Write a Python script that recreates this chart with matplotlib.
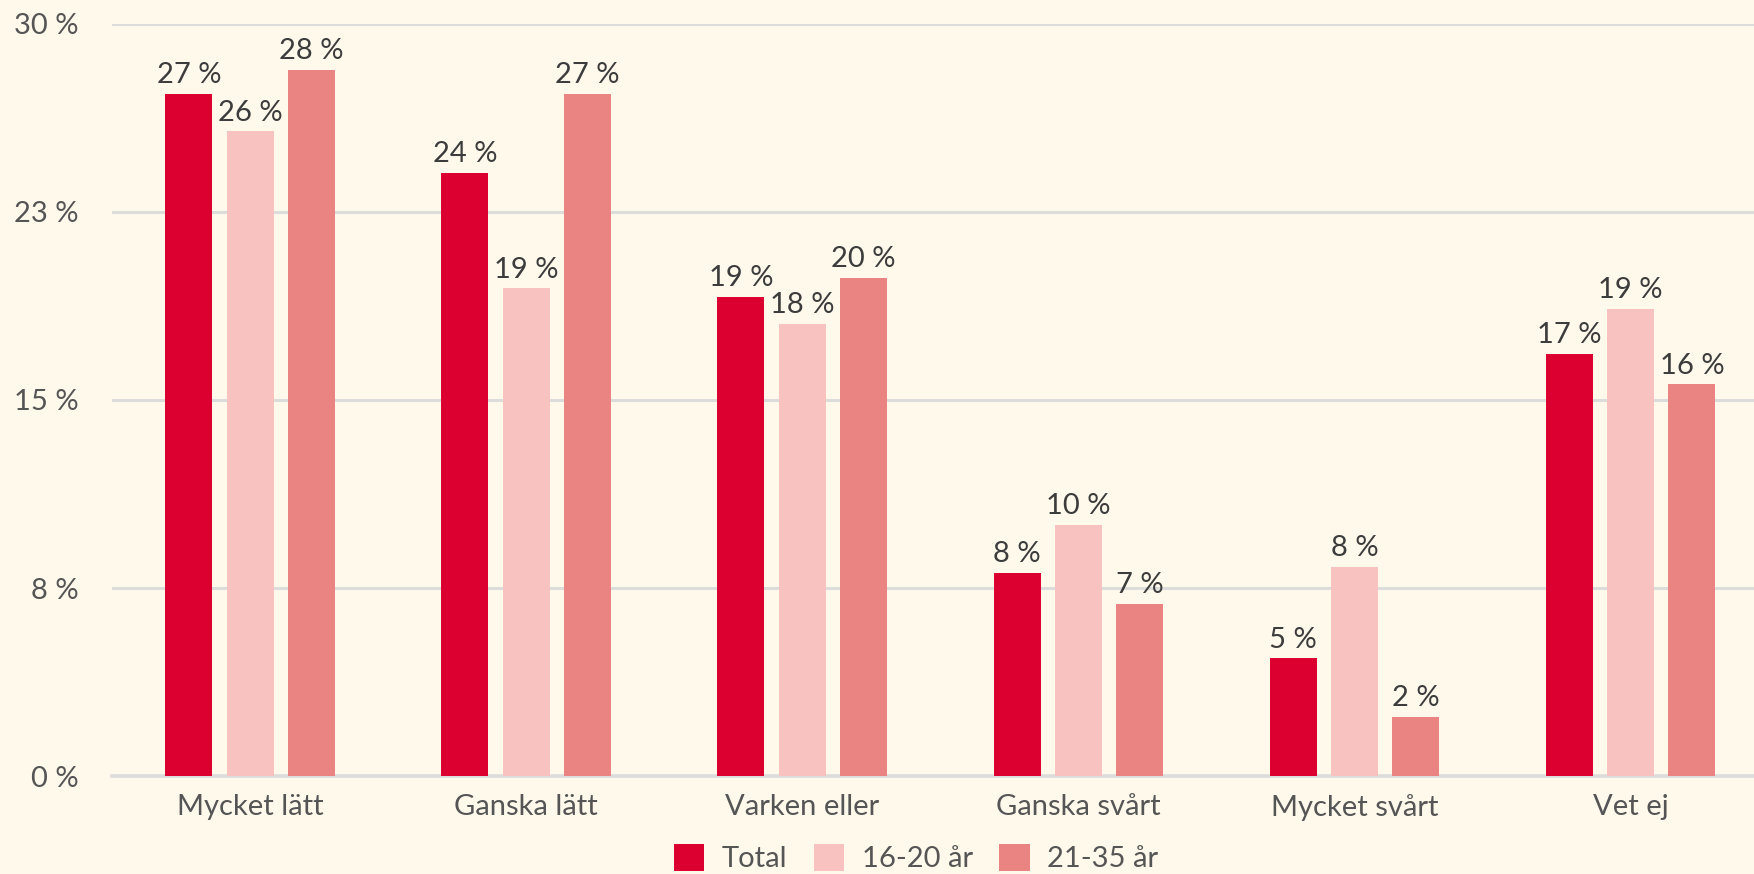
import math
import matplotlib
matplotlib.use("Agg")
import matplotlib.pyplot as plt
import numpy as np
from matplotlib.patches import Patch
from matplotlib.ticker import FixedLocator, FuncFormatter

plt.rcParams["font.family"] = ["Lato", "DejaVu Sans"]

categories = ["Mycket lätt", "Ganska lätt", "Varken eller", "Ganska svårt", "Mycket svårt", "Vet ej"]
series_names = ["Total", "16-20 år", "21-35 år"]
total = [27.21, 24.05, 19.12, 8.11, 4.70, 16.83]
age_16_20 = [25.71, 19.45, 18.04, 10.02, 8.35, 18.63]
age_21_35 = [28.16, 27.21, 19.87, 6.87, 2.38, 15.62]
y_ticks = [0, 7.5, 15, 22.5, 30]

colors = ["#DC0030", "#F7C2C0", "#E98482"]
bg = "#FFF9EC"
text_dark = "#3C3C3C"
text_mid = "#555555"
grid_col = "#DCDCDA"
fs = 21


def pct(v):
    return f"{int(math.floor(v + 0.5))} %"


fig = plt.figure(figsize=(17.54, 8.74), dpi=100, facecolor=bg)
ax = fig.add_axes([112 / 1754, (874 - 776.3) / 874, (1754 - 112) / 1754, (776.3 - 23.5) / 874])
ax.set_facecolor(bg)

x = np.arange(len(categories))
width = 0.17
step = 0.222
series = [total, age_16_20, age_21_35]
for i, (vals, col) in enumerate(zip(series, colors)):
    pos = x + (i - 1) * step
    bars = ax.bar(pos, vals, width=width, color=col, zorder=3, linewidth=0)
    for b, v in zip(bars, vals):
        ax.annotate(pct(v), (b.get_x() + b.get_width() / 2, v),
                    xytext=(0, 4), textcoords="offset points",
                    ha="center", va="bottom", fontsize=fs, color=text_dark,
                    annotation_clip=False, zorder=4)

ax.set_xlim(-0.5, 5.447)
ax.set_ylim(0, 30)
ax.yaxis.set_major_locator(FixedLocator(y_ticks))
ax.yaxis.set_major_formatter(FuncFormatter(lambda v, p: pct(v)))
ax.grid(axis="y", color=grid_col, linewidth=2.2, zorder=0)
ax.set_axisbelow(True)
for s in ["top", "right", "left"]:
    ax.spines[s].set_visible(False)
ax.spines["bottom"].set_color(grid_col)
ax.spines["bottom"].set_linewidth(2.6)
ax.spines["bottom"].set_zorder(2)

ax.set_xticks(x)
ax.set_xticklabels(categories)
ax.tick_params(axis="x", length=0, pad=13, labelsize=fs, labelcolor=text_mid)
ax.tick_params(axis="y", length=0, pad=24, labelsize=fs, labelcolor=text_mid)

handles = [Patch(facecolor=c, edgecolor="none") for c in colors]
fig.legend(handles, series_names, loc="center", bbox_to_anchor=(916 / 1754, (874 - 858) / 874),
           ncol=3, frameon=False, fontsize=fs, labelcolor=text_mid,
           handlelength=1.05, handleheight=1.05, handletextpad=0.6, columnspacing=0.9,
           borderpad=0.0)

fig.savefig("out.png", dpi=100, facecolor=bg)
